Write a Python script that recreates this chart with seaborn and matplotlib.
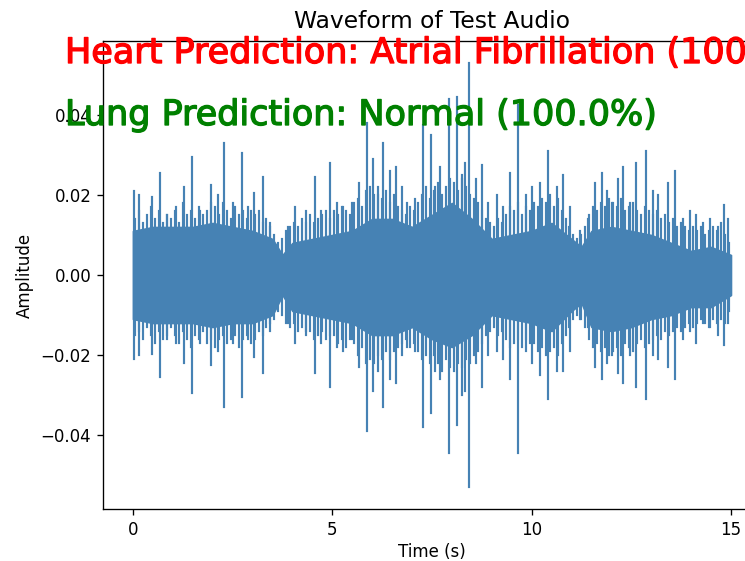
import numpy as np
import pandas as pd
import matplotlib
matplotlib.use('Agg')
import matplotlib.pyplot as plt
import matplotlib.patheffects as pe
import seaborn as sns

# body of the waveform (dense core), read every 0.5 s
body_t = [0.0, 0.5, 1.0, 1.5, 2.0, 2.5, 3.0, 3.5, 3.75, 4.0, 4.5, 5.0, 5.5, 6.0, 6.5, 7.0,
          7.5, 8.0, 8.5, 9.0, 9.5, 10.0, 10.5, 11.0, 11.25, 11.5, 12.0, 12.5, 13.0, 13.5,
          14.0, 14.5, 15.0]
body_hi = [0.011, 0.012, 0.012, 0.012, 0.013, 0.012, 0.011, 0.009, 0.005, 0.008, 0.009,
           0.010, 0.011, 0.014, 0.014, 0.012, 0.015, 0.018, 0.014, 0.009, 0.010, 0.011,
           0.013, 0.009, 0.007, 0.011, 0.012, 0.011, 0.010, 0.008, 0.006, 0.007, 0.005]
body_lo = [-0.011, -0.012, -0.012, -0.012, -0.013, -0.012, -0.012, -0.010, -0.005, -0.009,
           -0.010, -0.011, -0.012, -0.015, -0.015, -0.013, -0.016, -0.018, -0.015, -0.010,
           -0.011, -0.012, -0.014, -0.009, -0.007, -0.013, -0.014, -0.013, -0.011, -0.010,
           -0.008, -0.008, -0.005]

# small peaks that make the ragged edge of the body, every 0.1 s
minor_t = [0.05, 0.15, 0.25, 0.35, 0.45, 0.55, 0.65, 0.75, 0.85, 0.95,
           1.05, 1.15, 1.25, 1.35, 1.45, 1.55, 1.65, 1.75, 1.85, 1.95,
           2.05, 2.15, 2.25, 2.35, 2.45, 2.55, 2.65, 2.75, 2.85, 2.95,
           3.05, 3.15, 3.25, 3.35, 3.45, 3.55, 3.65, 3.75, 3.85, 3.95,
           4.05, 4.15, 4.25, 4.35, 4.45, 4.55, 4.65, 4.75, 4.85, 4.95,
           5.05, 5.15, 5.25, 5.35, 5.45, 5.55, 5.65, 5.75, 5.85, 5.95,
           6.05, 6.15, 6.25, 6.35, 6.45, 6.55, 6.65, 6.75, 6.85, 6.95,
           7.05, 7.15, 7.25, 7.35, 7.45, 7.55, 7.65, 7.75, 7.85, 7.95,
           8.05, 8.15, 8.25, 8.35, 8.45, 8.55, 8.65, 8.75, 8.85, 8.95,
           9.05, 9.15, 9.25, 9.35, 9.45, 9.55, 9.65, 9.75, 9.85, 9.95,
           10.05, 10.15, 10.25, 10.35, 10.45, 10.55, 10.65, 10.75, 10.85, 10.95,
           11.05, 11.15, 11.25, 11.35, 11.45, 11.55, 11.65, 11.75, 11.85, 11.95,
           12.05, 12.15, 12.25, 12.35, 12.45, 12.55, 12.65, 12.75, 12.85, 12.95,
           13.05, 13.15, 13.25, 13.35, 13.45, 13.55, 13.65, 13.75, 13.85, 13.95,
           14.05, 14.15, 14.25, 14.35, 14.45, 14.55, 14.65, 14.75, 14.85, 14.95]
minor_top = [0.014, 0.016, 0.013, 0.015, 0.017, 0.014, 0.016, 0.013, 0.015, 0.014,
             0.016, 0.013, 0.018, 0.015, 0.016, 0.014, 0.017, 0.015, 0.016, 0.018,
             0.017, 0.015, 0.018, 0.016, 0.014, 0.017, 0.015, 0.016, 0.014, 0.016,
             0.015, 0.016, 0.013, 0.014, 0.012, 0.010, 0.008, 0.009, 0.011, 0.012,
             0.013, 0.012, 0.014, 0.013, 0.015, 0.013, 0.014, 0.015, 0.016, 0.014,
             0.016, 0.015, 0.017, 0.016, 0.015, 0.018, 0.019, 0.017, 0.021, 0.022,
             0.020, 0.022, 0.019, 0.021, 0.018, 0.020, 0.017, 0.016, 0.015, 0.017,
             0.016, 0.018, 0.020, 0.022, 0.019, 0.021, 0.023, 0.020, 0.022, 0.024,
             0.023, 0.021, 0.024, 0.022, 0.020, 0.019, 0.018, 0.016, 0.014, 0.013,
             0.012, 0.014, 0.013, 0.015, 0.017, 0.016, 0.018, 0.015, 0.017, 0.016,
             0.018, 0.017, 0.019, 0.018, 0.020, 0.017, 0.019, 0.016, 0.014, 0.012,
             0.010, 0.009, 0.010, 0.012, 0.015, 0.017, 0.016, 0.018, 0.017, 0.019,
             0.018, 0.017, 0.019, 0.016, 0.017, 0.018, 0.016, 0.015, 0.017, 0.016,
             0.015, 0.016, 0.014, 0.015, 0.013, 0.014, 0.012, 0.013, 0.012, 0.011,
             0.012, 0.011, 0.012, 0.010, 0.011, 0.012, 0.011, 0.013, 0.010, 0.008]
minor_bot = [-0.015, -0.014, -0.016, -0.013, -0.015, -0.017, -0.014, -0.016, -0.015, -0.013,
             -0.015, -0.017, -0.014, -0.016, -0.018, -0.015, -0.016, -0.014, -0.017, -0.016,
             -0.018, -0.016, -0.015, -0.017, -0.016, -0.015, -0.018, -0.016, -0.015, -0.017,
             -0.016, -0.014, -0.015, -0.013, -0.012, -0.011, -0.009, -0.010, -0.012, -0.013,
             -0.012, -0.014, -0.013, -0.015, -0.014, -0.016, -0.015, -0.014, -0.016, -0.015,
             -0.015, -0.017, -0.016, -0.018, -0.016, -0.017, -0.020, -0.018, -0.022, -0.021,
             -0.022, -0.020, -0.021, -0.019, -0.021, -0.019, -0.018, -0.017, -0.016, -0.018,
             -0.017, -0.019, -0.021, -0.020, -0.022, -0.020, -0.022, -0.024, -0.021, -0.023,
             -0.024, -0.022, -0.023, -0.021, -0.022, -0.020, -0.019, -0.017, -0.015, -0.014,
             -0.013, -0.015, -0.014, -0.016, -0.018, -0.017, -0.016, -0.018, -0.016, -0.017,
             -0.017, -0.019, -0.018, -0.020, -0.019, -0.018, -0.020, -0.017, -0.015, -0.013,
             -0.011, -0.010, -0.011, -0.013, -0.016, -0.018, -0.017, -0.019, -0.018, -0.020,
             -0.019, -0.018, -0.020, -0.017, -0.018, -0.019, -0.017, -0.016, -0.018, -0.017,
             -0.016, -0.015, -0.016, -0.014, -0.015, -0.014, -0.013, -0.014, -0.013, -0.012,
             -0.013, -0.012, -0.011, -0.012, -0.013, -0.011, -0.012, -0.011, -0.012, -0.009]

# individual peaks sticking out of the body
spike_t = [0.03, 0.15, 0.48, 0.68, 0.85, 1.08, 1.28, 1.48, 1.68, 1.96, 2.13, 2.28, 2.51,
           2.73, 2.88, 3.03, 3.26, 3.44, 3.89, 4.06, 4.34, 4.56, 4.72, 4.94, 5.12, 5.27,
           5.49, 5.67, 5.87, 6.02, 6.15, 6.27, 6.45, 6.60, 6.75, 6.87, 7.07, 7.27, 7.47,
           7.57, 7.70, 7.93, 8.13, 8.25, 8.33, 8.43, 8.60, 8.75, 8.90, 9.13, 9.28, 9.46,
           9.66, 9.86, 10.01, 10.21, 10.41, 10.63, 10.79, 10.96, 11.21, 11.41, 11.59, 11.76,
           11.89, 12.01, 12.16, 12.29, 12.47, 12.62, 12.87, 13.04, 13.17, 13.42, 13.60,
           13.80, 13.97, 14.12, 14.30, 14.47, 14.67, 14.82, 14.92]
spike_top = [0.021, 0.020, 0.0195, 0.0255, 0.015, 0.017, 0.022, 0.0295, 0.016, 0.0225,
             0.020, 0.033, 0.018, 0.0305, 0.017, 0.0205, 0.0245, 0.013, 0.012, 0.017,
             0.016, 0.0245, 0.016, 0.028, 0.018, 0.017, 0.018, 0.023, 0.038, 0.029, 0.020,
             0.033, 0.026, 0.027, 0.022, 0.018, 0.019, 0.0375, 0.035, 0.022, 0.027, 0.044,
             0.0445, 0.025, 0.028, 0.053, 0.024, 0.0275, 0.018, 0.020, 0.017, 0.0255,
             0.0425, 0.020, 0.022, 0.023, 0.031, 0.022, 0.025, 0.017, 0.011, 0.014, 0.023,
             0.0255, 0.021, 0.018, 0.024, 0.027, 0.018, 0.028, 0.031, 0.021, 0.020, 0.023,
             0.026, 0.014, 0.016, 0.015, 0.013, 0.014, 0.012, 0.0175, 0.014]
spike_bot = [-0.021, -0.020, -0.0197, -0.0255, -0.016, -0.017, -0.022, -0.0295, -0.017,
             -0.0225, -0.019, -0.033, -0.017, -0.0305, -0.016, -0.0205, -0.0245, -0.014,
             -0.012, -0.017, -0.014, -0.0245, -0.017, -0.028, -0.018, -0.019, -0.016,
             -0.023, -0.039, -0.029, -0.024, -0.033, -0.026, -0.027, -0.020, -0.018,
             -0.019, -0.038, -0.0345, -0.024, -0.026, -0.0445, -0.0375, -0.030, -0.029,
             -0.053, -0.022, -0.028, -0.020, -0.019, -0.021, -0.026, -0.0445, -0.019,
             -0.022, -0.025, -0.031, -0.024, -0.024, -0.019, -0.011, -0.013, -0.023,
             -0.026, -0.022, -0.020, -0.0245, -0.027, -0.020, -0.028, -0.031, -0.020,
             -0.021, -0.023, -0.026, -0.016, -0.014, -0.017, -0.012, -0.013, -0.015,
             -0.0175, -0.012]

heart_text = "Heart Prediction: Atrial Fibrillation (100.0%)"
lung_text = "Lung Prediction: Normal (100.0%)"

all_t = minor_t + spike_t
all_top = minor_top + spike_top
all_bot = minor_bot + spike_bot
peaks = pd.DataFrame({
    't': all_t + all_t,
    'amp': all_top + all_bot,
    'id': list(range(len(all_t))) * 2,
})

# the screenshot was taken from a figure drawn at 120 dpi
dpi = 120
fig = plt.figure(figsize=(745 / dpi, 561 / dpi), dpi=dpi)
ax = fig.add_axes([0.1383, 0.0927, 0.883, 0.8342])

wave_color = 'steelblue'
ax.fill_between(body_t, body_lo, body_hi, color=wave_color, lw=1.0)
sns.lineplot(data=peaks, x='t', y='amp', units='id', estimator=None, sort=False,
             color=wave_color, linewidth=1.3, ax=ax)

ax.set_xlim(-0.75, 15.75)
ax.set_ylim(-0.0585, 0.0585)
ax.set_xticks([0, 5, 10, 15])
ax.set_yticks([-0.04, -0.02, 0.0, 0.02, 0.04])
ax.set_title('Waveform of Test Audio', fontsize=14, pad=8)
ax.set_xlabel('Time (s)', labelpad=2.5)
ax.set_ylabel('Amplitude')

# prediction labels stamped over the image
stroke_red = [pe.withStroke(linewidth=0.8, foreground='#ff0000')]
stroke_green = [pe.withStroke(linewidth=0.8, foreground='#008000')]
fig.text(65 / 745, 1 - 63 / 561, heart_text, color='#ff0000', fontsize=21,
         family='DejaVu Sans', va='baseline', path_effects=stroke_red)
fig.text(65 / 745, 1 - 125 / 561, lung_text, color='#008000', fontsize=21,
         family='DejaVu Sans', va='baseline', path_effects=stroke_green)

fig.savefig('out.png', dpi=dpi)
